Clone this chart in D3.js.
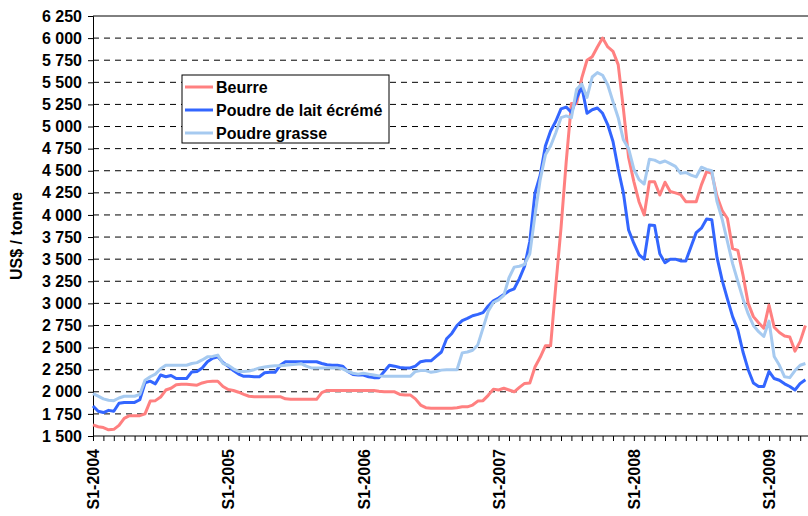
<!DOCTYPE html>
<html>
<head>
<meta charset="utf-8">
<script src="https://cdn.jsdelivr.net/npm/d3@7"></script>
<style>
  body { margin: 0; background: #fff; }
  text { font-family: "Liberation Sans", Arial, sans-serif; font-weight: bold; }
</style>
</head>
<body>
<div id="container"></div>
<script>
// fortnightly prices, US$ / tonne, starting S1-2004
const beurre = [
  1625, 1605, 1595, 1570, 1575, 1620, 1700, 1730, 1730, 1730, 1750, 1895, 1900, 1940, 2020, 2040, 2080, 2085, 2085, 2080, 2075, 2100, 2115, 2120, 2120, 2060,
  2025, 2015, 1995, 1970, 1950, 1945, 1945, 1945, 1945, 1945, 1945, 1920, 1915, 1915, 1915, 1915, 1915, 1915, 1990, 2015, 2015, 2015, 2015, 2015, 2015, 2015,
  2015, 2015, 2015, 2005, 2000, 2000, 2000, 1970, 1965, 1965, 1920, 1850, 1820, 1815, 1815, 1815, 1815, 1815, 1820, 1830, 1830, 1850, 1895, 1900, 1960, 2030,
  2020, 2040, 2020, 2000, 2050, 2095, 2100, 2280, 2390, 2520, 2520, 3200, 3850, 4600, 5260, 5260, 5550, 5750, 5790, 5900, 6000, 5900, 5850, 5700, 5200, 4650,
  4380, 4150, 4000, 4375, 4375, 4225, 4370, 4265, 4250, 4230, 4150, 4150, 4150, 4340, 4490, 4470, 4210, 4050, 3960, 3620, 3600, 3320, 3000, 2850, 2780, 2720,
  2980, 2730, 2670, 2630, 2620, 2460, 2570, 2750
];
const poudreEcreme = [
  1840, 1780, 1765, 1790, 1780, 1870, 1880, 1880, 1880, 1910, 2100, 2120, 2090, 2190, 2170, 2185, 2150, 2150, 2150, 2225, 2230, 2270, 2340, 2380, 2395, 2330,
  2290, 2240, 2200, 2175, 2175, 2170, 2170, 2215, 2220, 2220, 2300, 2340, 2340, 2340, 2340, 2340, 2340, 2340, 2320, 2305, 2300, 2300, 2290, 2230, 2195, 2190,
  2190, 2170, 2160, 2160, 2230, 2300, 2290, 2275, 2270, 2270, 2290, 2340, 2350, 2350, 2400, 2450, 2600, 2660, 2750, 2805, 2830, 2860, 2875, 2895, 2970, 3030,
  3060, 3100, 3140, 3165, 3280, 3420, 3700, 4250, 4450, 4780, 4950, 5060, 5200, 5220, 5160, 5320, 5450, 5150, 5190, 5210, 5150, 5020, 4830, 4520, 4250, 3830,
  3680, 3550, 3500, 3885, 3880, 3560, 3460, 3500, 3500, 3480, 3480, 3640, 3800, 3850, 3955, 3945, 3520, 3260, 3050, 2850, 2700, 2450, 2250, 2100, 2060, 2060,
  2230, 2150, 2130, 2090, 2060, 2020, 2095, 2135
];
const poudreGrasse = [
  1980, 1950, 1920, 1905, 1900, 1930, 1950, 1950, 1950, 1970, 2130, 2170, 2200, 2260, 2300, 2300, 2300, 2300, 2300, 2320, 2330, 2360, 2395, 2400, 2415, 2320,
  2300, 2260, 2230, 2230, 2235, 2250, 2270, 2280, 2290, 2295, 2295, 2300, 2305, 2310, 2318, 2290, 2270, 2270, 2270, 2270, 2270, 2270, 2260, 2230, 2210, 2200,
  2210, 2200, 2190, 2180, 2175, 2175, 2175, 2175, 2175, 2175, 2230, 2240, 2240, 2220, 2230, 2245, 2250, 2250, 2250, 2440, 2450, 2470, 2530, 2720, 2910, 3010,
  3040, 3090, 3290, 3410, 3420, 3440, 3560, 4000, 4400, 4680, 4780, 4930, 5100, 5120, 5100, 5420, 5480, 5330, 5560, 5610, 5580, 5470, 5280, 5100, 4850, 4750,
  4520, 4400, 4350, 4630, 4620, 4590, 4610, 4580, 4550, 4470, 4480, 4450, 4430, 4540, 4515, 4500, 4150, 3950, 3700, 3450, 3250, 3050, 2880, 2750, 2680, 2625,
  2800, 2400, 2300, 2170, 2160, 2240, 2300, 2320
];
const seriesNames = ["Beurre", "Poudre de lait écrémé", "Poudre grasse"];
const seriesColors = ["#FF8080", "#3366FF", "#A6CAF0"];
const periodsPerYear = 26;
const yearLabels = ["S1-2004", "S1-2005", "S1-2006", "S1-2007", "S1-2008", "S1-2009"];
const yTicks = d3.range(1500, 6251, 250);

const w = 808;
const h = 516;
const plotLeft = 93, plotRight = 808, plotTop = 16, plotBottom = 436;
const fontSize = 16;

const svg = d3.select("#container").append("svg")
  .attr("width", w)
  .attr("height", h);

const xScale = d3.scaleLinear()
  .domain([0, beurre.length - 0.5])
  .range([plotLeft, plotRight]);

const yScale = d3.scaleLinear()
  .domain([1500, 6250])
  .range([plotBottom, plotTop]);

const fr = d3.formatLocale({ decimal: ",", thousands: " ", grouping: [3], currency: ["", ""] });
const fmt = fr.format(",d");

// dashed gridlines
svg.append("g")
  .selectAll("line")
  .data(yTicks.slice(1, -1))
  .join("line")
  .attr("x1", plotLeft)
  .attr("x2", plotRight)
  .attr("y1", d => yScale(d))
  .attr("y2", d => yScale(d))
  .attr("stroke", "#000")
  .attr("stroke-width", 1)
  .attr("stroke-dasharray", "6,5");

// top border
svg.append("line")
  .attr("x1", plotLeft).attr("x2", plotRight)
  .attr("y1", yScale(6250)).attr("y2", yScale(6250))
  .attr("stroke", "#000");

// y axis
const yAxis = d3.axisLeft(yScale)
  .tickValues(yTicks)
  .tickFormat(fmt)
  .tickSize(5)
  .tickPadding(6);

const gy = svg.append("g")
  .attr("transform", `translate(${plotLeft},0)`)
  .call(yAxis);
gy.select(".domain").attr("stroke", "#000");
gy.selectAll("text").attr("font-size", fontSize).attr("fill", "#000")
  .style("font-family", "'Liberation Sans', Arial, sans-serif").style("font-weight", "bold");

svg.append("text")
  .attr("transform", `translate(22,${(plotTop + plotBottom) / 2 + 10}) rotate(-90)`)
  .attr("text-anchor", "middle")
  .attr("font-size", fontSize)
  .text("US$ / tonne");

// x axis: minor tick every 2 periods, label every year
const xTickIdx = d3.range(0, beurre.length, 2);
const xAxis = d3.axisBottom(xScale)
  .tickValues(xTickIdx)
  .tickSize(5)
  .tickFormat(i => i % periodsPerYear === 0 ? yearLabels[i / periodsPerYear] : "");

const gx = svg.append("g")
  .attr("transform", `translate(0,${plotBottom})`)
  .call(xAxis);
gx.select(".domain").attr("stroke", "#000").attr("d", `M${plotLeft},0H${plotRight}`);
gx.selectAll("text")
  .attr("font-size", fontSize)
  .attr("fill", "#000")
  .style("font-family", "'Liberation Sans', Arial, sans-serif").style("font-weight", "bold")
  .attr("text-anchor", "end")
  .attr("dy", "0.35em")
  .attr("x", -13)
  .attr("y", 0)
  .attr("transform", "rotate(-90)");

// lines
const line = d3.line()
  .x((d, i) => xScale(i))
  .y(d => yScale(d));

[beurre, poudreEcreme, poudreGrasse].forEach((s, k) => {
  svg.append("path")
    .datum(s)
    .attr("fill", "none")
    .attr("stroke", seriesColors[k])
    .attr("stroke-width", 3)
    .attr("stroke-linejoin", "round")
    .attr("d", line);
});

// legend
const legend = svg.append("g").attr("transform", "translate(182,75)");
legend.append("rect")
  .attr("width", 207)
  .attr("height", 68)
  .attr("fill", "#fff")
  .attr("stroke", "#000");

const rows = legend.selectAll("g.row")
  .data(seriesNames)
  .join("g")
  .attr("class", "row")
  .attr("transform", (d, i) => `translate(0,${12 + i * 23})`);
rows.append("line")
  .attr("x1", 3).attr("x2", 31)
  .attr("stroke", (d, i) => seriesColors[i])
  .attr("stroke-width", 3);
rows.append("text")
  .attr("x", 34)
  .attr("dy", "0.35em")
  .attr("font-size", fontSize)
  .text(d => d);
</script>
</body>
</html>
